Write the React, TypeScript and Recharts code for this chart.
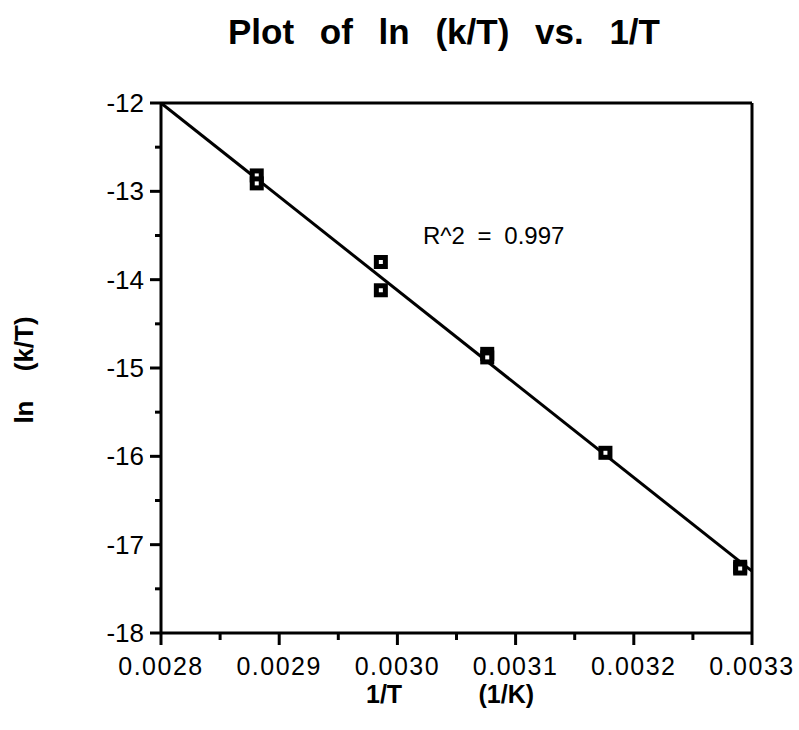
import {
  ComposedChart,
  Scatter,
  Line,
  XAxis,
  YAxis,
  ReferenceLine,
} from "recharts";

const FONT = "'Liberation Sans', Arial, Helvetica, sans-serif";

// measured points (1/T, ln(k/T)), duplicates at each temperature
const invT = [0.002881, 0.002881, 0.002986, 0.002986, 0.003076, 0.003076, 0.003176, 0.00329, 0.00329];
const lnKT = [-12.82, -12.91, -13.8, -14.12, -14.84, -14.88, -15.96, -17.25, -17.27];

// least-squares fit line endpoints
const fitX = [0.0028, 0.0033];
const fitY = [-12.0, -17.3];

const xTicks = [0.0028, 0.00285, 0.0029, 0.00295, 0.003, 0.00305, 0.0031, 0.00315, 0.0032, 0.00325, 0.0033];
const yTicks = [-18, -17.5, -17, -16.5, -16, -15.5, -15, -14.5, -14, -13.5, -13, -12.5, -12];

const points = invT.map((x, i) => ({ x, y: lnKT[i] }));
const fit = fitX.map((x, i) => ({ x, y: fitY[i] }));

const XTick = (props: any) => {
  const { x, y, payload } = props;
  const v = payload.value;
  const major = Math.round(v * 100000) % 10 === 0;
  return (
    <g>
      <line x1={x} x2={x} y1={y} y2={y + (major ? 12 : 7)} stroke="#000" strokeWidth={3} />
      {major && (
        <text
          x={x}
          y={y + 42}
          textAnchor="middle"
          fontFamily={FONT}
          fontSize={25}
          letterSpacing={1.5}
          fill="#000"
        >
          {v.toFixed(4)}
        </text>
      )}
    </g>
  );
};

const YTick = (props: any) => {
  const { x, y, payload } = props;
  const v = payload.value;
  const major = Number.isInteger(v);
  return (
    <g>
      <line x1={x} x2={x - (major ? 11 : 6)} y1={y} y2={y} stroke="#000" strokeWidth={3} />
      {major && (
        <text
          x={x - 17}
          y={y + 9}
          textAnchor="end"
          fontFamily={FONT}
          fontSize={26}
          fill="#000"
        >
          {String(v)}
        </text>
      )}
    </g>
  );
};

const Marker = (props: any) => {
  const { cx, cy } = props;
  return (
    <g>
      <rect x={cx - 7} y={cy - 7} width={14} height={14} fill="#000" />
      <rect x={cx - 2} y={cy - 2} width={4} height={4} fill="#fff" />
    </g>
  );
};

export default function App() {
  return (
    <div style={{ position: "absolute", left: 0, top: 0, width: 799, height: 730, background: "#fff" }}>
      <div
        style={{
          position: "absolute",
          left: 228,
          top: 12,
          fontFamily: FONT,
          fontWeight: "bold",
          fontSize: 35,
          wordSpacing: 16,
          whiteSpace: "nowrap",
        }}
      >
        Plot of ln (k/T) vs. 1/T
      </div>
      <ComposedChart
        width={799}
        height={730}
        margin={{ top: 103, right: 47, left: 0, bottom: 0 }}
        style={{ position: "absolute", left: 0, top: 0 }}
      >
        <XAxis
          dataKey="x"
          type="number"
          domain={[0.0028, 0.0033]}
          ticks={xTicks}
          interval={0}
          allowDataOverflow
          height={97}
          tickSize={0}
          tickMargin={0}
          tickLine={false}
          axisLine={{ stroke: "#000", strokeWidth: 3 }}
          tick={<XTick />}
        />
        <YAxis
          dataKey="y"
          type="number"
          domain={[-18, -12]}
          ticks={yTicks}
          interval={0}
          allowDataOverflow
          width={161}
          tickSize={0}
          tickMargin={0}
          tickLine={false}
          axisLine={{ stroke: "#000", strokeWidth: 3 }}
          tick={<YTick />}
        />
        <ReferenceLine y={-12} stroke="#000" strokeWidth={3} />
        <ReferenceLine x={0.0033} stroke="#000" strokeWidth={3} />
        <Line
          data={fit}
          dataKey="y"
          type="linear"
          stroke="#000"
          strokeWidth={3}
          dot={false}
          activeDot={false}
          isAnimationActive={false}
        />
        <Scatter data={points} dataKey="y" shape={<Marker />} isAnimationActive={false} />
      </ComposedChart>
      <div
        style={{
          position: "absolute",
          left: 423,
          top: 222,
          fontFamily: FONT,
          fontSize: 24,
          wordSpacing: 6,
          whiteSpace: "nowrap",
        }}
      >
        R^2 = 0.997
      </div>
      <div
        style={{
          position: "absolute",
          left: 24,
          top: 370,
          transform: "translate(-50%, -50%) rotate(-90deg)",
          fontFamily: FONT,
          fontWeight: "bold",
          fontSize: 26,
          wordSpacing: 22,
          whiteSpace: "nowrap",
        }}
      >
        ln (k/T)
      </div>
      <div
        style={{
          position: "absolute",
          left: 366,
          top: 682,
          fontFamily: FONT,
          fontWeight: "bold",
          fontSize: 25,
          lineHeight: 1,
          whiteSpace: "pre",
        }}
      >
        {"1/T           (1/K)"}
      </div>
    </div>
  );
}
